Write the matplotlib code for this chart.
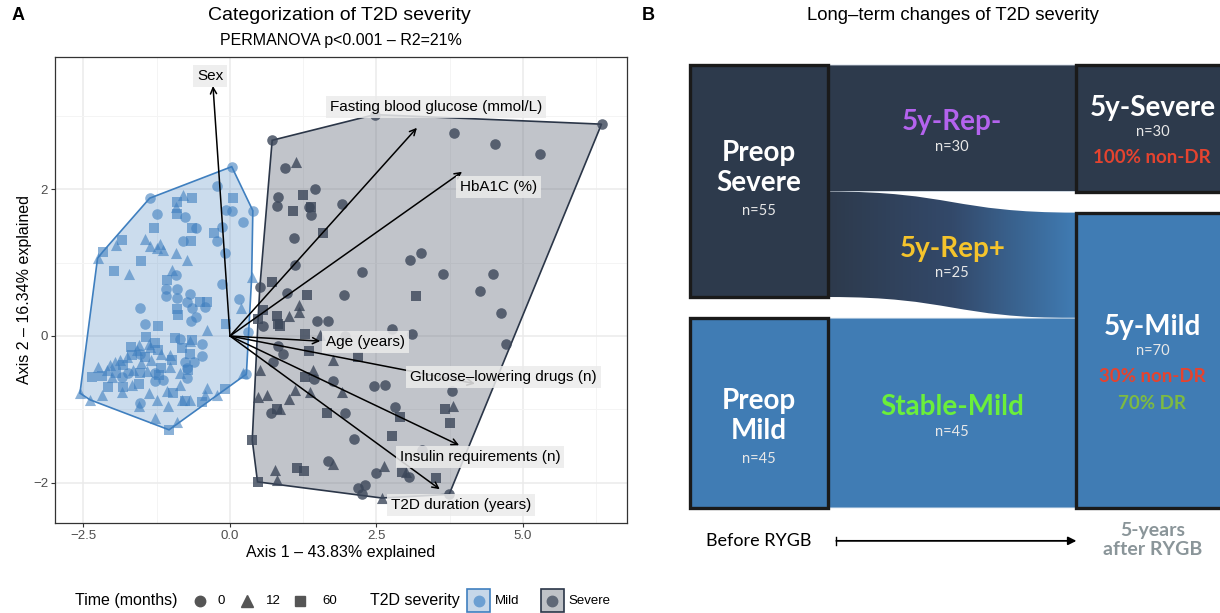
import numpy as np
import matplotlib.pyplot as plt
from matplotlib.path import Path
from matplotlib.patches import PathPatch, Rectangle, Polygon
from matplotlib.lines import Line2D
from matplotlib.colors import LinearSegmentedColormap

plt.rcParams['font.family'] = ['Liberation Sans', 'DejaVu Sans']

# ---------------- PCoA scores (axis 1, axis 2, time in months)
mild_x = [0.03, -1.37, -0.80, -0.65, -0.91, -0.92, -0.91, -0.77, -1.24, -0.23, 0.06, -0.06, 0.03, 0.39,
          0.23, -1.29, -0.64, -0.58, -0.14, -0.28, -0.23, -0.67, -0.81, -1.85, -1.94, -1.45, -1.37, -1.19,
          -1.24, -1.15, -2.17, -2.26, -0.92, -0.74, -1.51, -0.09, -1.98, -1.72, -0.99, -1.08, -0.92, -0.14,
          0.37, -1.09, -0.91, -1.09, -0.91, -0.68, -0.74, -0.51, -0.39, -0.43, -0.65, 0.15, 0.18, -1.54,
          -0.91, -0.88, -0.58, -0.67, -1.45, -1.23, -0.39, -0.06, -1.44, -0.94, -0.85, -0.65, -0.47, -0.68,
          -1.28, -1.56, -1.69, -1.37, -0.82, -0.68, -0.47, -0.61, -0.73, -0.74, 0.23, 0.28, -2.25, -2.36,
          -2.19, -2.10, -2.05, -1.96, -1.88, -1.82, -1.76, -1.68, -1.59, -1.54, -1.45, -1.51, -1.34, -1.22,
          -1.17, -1.02, -0.99, -1.39, -1.65, -1.74, -1.94, -2.02, -1.85, -1.54, -1.28, -1.21, -1.42, -1.17,
          -0.85, -1.02, -0.71, -2.56, -2.39, -2.19, -2.08, -1.85, -1.82, -1.68, -1.56, -1.39, -1.56, -1.54,
          -1.25, -1.08, -0.97, -1.05, -1.28, -1.04, -0.91, -0.82, -0.77, -0.69, -0.85, -0.48, -0.40, -0.23,
          -0.09, -0.43, -1.28, -1.14, -0.77, 0.30]
mild_y = [2.31, 1.88, 1.92, 1.88, 1.83, 1.76, 1.67, 1.63, 1.67, 2.04, 1.88, 1.72, 1.70, 1.71,
          1.55, 1.48, 1.48, 1.48, 1.49, 1.41, 1.30, 1.29, 1.29, 1.31, 1.24, 1.32, 1.23, 1.26,
          1.20, 1.17, 1.15, 1.06, 1.13, 1.04, 1.02, 1.13, 0.88, 0.85, 0.90, 0.76, 0.83, 0.71,
          0.80, 0.64, 0.64, 0.55, 0.52, 0.57, 0.47, 0.47, 0.47, 0.39, 0.38, 0.51, 0.38, 0.38,
          0.37, 0.28, 0.26, 0.20, 0.16, 0.13, 0.08, 0.16, -0.01, -0.03, -0.04, -0.05, -0.11, -0.07,
          -0.10, -0.12, -0.15, -0.15, -0.16, -0.24, -0.27, -0.36, -0.43, -0.57, -0.50, -0.52, -0.42, -0.56,
          -0.54, -0.46, -0.40, -0.35, -0.33, -0.40, -0.28, -0.26, -0.19, -0.24, -0.28, -0.37, -0.33, -0.19,
          -0.24, -0.26, -0.33, -0.11, -0.46, -0.50, -0.51, -0.56, -0.56, -0.50, -0.51, -0.53, -0.48, -0.44,
          -0.51, -0.42, -0.46, -0.78, -0.87, -0.80, -0.69, -0.76, -0.69, -0.67, -0.65, -0.78, -0.96, -0.92,
          -0.87, -0.75, -0.78, -0.96, -1.12, -1.28, -1.17, -0.87, -0.89, -0.87, -0.67, -0.90, -0.71, -0.80,
          -0.72, -0.80, -0.62, -0.60, -0.35, 0.05]
mild_t = [0, 0, 12, 60, 60, 12, 60, 0, 0, 0, 60, 0, 0, 0,
          0, 60, 60, 0, 0, 60, 0, 60, 0, 60, 12, 12, 12, 12,
          12, 12, 60, 12, 12, 12, 60, 0, 60, 12, 12, 60, 0, 0,
          12, 0, 0, 0, 0, 0, 0, 60, 60, 0, 0, 0, 12, 0,
          60, 60, 0, 0, 0, 60, 12, 60, 60, 60, 0, 60, 0, 12,
          60, 12, 60, 12, 60, 60, 0, 0, 0, 0, 12, 0, 12, 60,
          60, 12, 12, 12, 12, 60, 12, 60, 12, 0, 60, 12, 12, 60,
          12, 12, 60, 12, 12, 0, 60, 12, 0, 60, 0, 60, 12, 60,
          12, 12, 60, 12, 12, 12, 60, 12, 60, 12, 60, 12, 12, 0,
          12, 12, 60, 12, 12, 60, 12, 12, 60, 12, 12, 60, 12, 12,
          60, 12, 0, 0, 0, 0]

severe_x = [0.72, 2.47, 6.34, 3.83, 4.52, 5.29, 0.94, 1.12, 1.45, 0.82, 1.24, 0.81, 1.08, 1.35, 1.39,
            1.39, 1.91, 1.09, 1.58, 1.11, 3.07, 3.26, 2.26, 3.64, 4.49, 4.27, 4.62, 4.71, 0.51, 0.71,
            0.97, 1.32, 1.95, 3.17, 1.18, 1.17, 0.57, 0.80, 1.00, 1.48, 1.67, 0.48, 0.82, 0.57, 0.85,
            2.76, 3.10, 1.96, 1.28, 1.53, 0.82, 0.91, 0.74, 1.34, 2.18, 1.76, 0.51, 1.42, 1.28, 1.44,
            1.76, 2.45, 2.65, 3.79, 0.48, 0.64, 1.00, 1.11, 1.37, 1.91, 3.81, 3.67, 3.75, 0.70, 0.85,
            0.81, 1.65, 1.96, 2.90, 2.82, 0.38, 2.12, 2.76, 3.27, 0.77, 0.81, 1.14, 1.27, 1.67, 1.76,
            2.50, 2.62, 2.93, 3.01, 3.06, 3.51, 0.47, 2.18, 2.30, 2.26, 2.59, 3.74]
severe_y = [2.67, 3.02, 2.89, 2.77, 2.62, 2.48, 2.29, 2.38, 2.01, 1.90, 1.92, 1.77, 1.70, 1.76, 1.76,
            1.65, 1.80, 1.34, 1.40, 0.97, 1.03, 1.13, 0.87, 0.85, 0.85, 0.61, 0.31, -0.11, 0.67, 0.73,
            0.59, 0.56, 0.56, 0.54, 0.42, 0.33, 0.36, 0.27, 0.27, 0.21, 0.21, 0.23, 0.17, 0.13, 0.13,
            0.10, 0.03, 0.00, 0.03, 0.02, -0.14, -0.25, -0.35, -0.21, -0.29, -0.33, -0.46, -0.47, -0.56, -0.59,
            -0.61, -0.68, -0.67, -0.75, -0.83, -0.80, -0.86, -0.74, -0.77, -0.77, -0.95, -0.99, -1.19, -1.05, -0.99,
            -1.00, -1.05, -1.05, -1.11, -0.97, -1.42, -1.41, -1.36, -1.56, -1.83, -1.96, -1.80, -1.84, -1.71, -1.75,
            -1.87, -1.78, -1.85, -1.85, -1.92, -1.94, -1.99, -2.08, -2.03, -2.15, -2.21, -2.16]
severe_t = [0, 0, 0, 0, 0, 0, 0, 12, 0, 0, 60, 0, 60, 0, 60,
            0, 0, 0, 60, 0, 0, 0, 0, 0, 0, 0, 0, 0, 0, 60,
            0, 60, 0, 60, 12, 12, 60, 60, 12, 0, 0, 60, 60, 0, 60,
            0, 0, 0, 60, 12, 0, 0, 0, 60, 60, 12, 12, 12, 60, 0,
            0, 0, 0, 0, 12, 12, 12, 12, 12, 12, 12, 60, 60, 0, 12,
            60, 60, 0, 60, 0, 60, 0, 60, 0, 12, 12, 60, 60, 0, 12,
            0, 12, 60, 12, 0, 60, 60, 0, 0, 0, 12, 0]

# fitted variable vectors
vec_names = ['Sex', 'Fasting blood glucose (mmol/L)', 'HbA1C (%)', 'Age (years)',
             'Glucose\u2013lowering drugs (n)', 'Insulin requirements (n)', 'T2D duration (years)']
vec_x = [-0.29, 3.19, 3.96, 1.54, 4.18, 3.91, 3.58]
vec_y = [3.41, 2.84, 2.24, -0.07, -0.65, -1.49, -2.09]
lab_x = [-0.34, 3.52, 4.59, 2.32, 4.67, 4.27, 3.94]
lab_y = [3.55, 3.12, 2.03, -0.08, -0.56, -1.65, -2.31]

# ---------------- severity transitions
left_names = ['Preop\nSevere', 'Preop\nMild']
left_n = [55, 45]
right_names = ['5y-Severe', '5y-Mild']
right_n = [30, 70]
flow_names = ['5y-Rep-', '5y-Rep+', 'Stable-Mild']
flow_n = [30, 25, 45]
flow_src = [0, 0, 1]
flow_dst = [0, 1, 1]
flow_cols = ['#B463EE', '#F5C42C', '#6BEF3A']
dr_text = [['100% non-DR'], ['30% non-DR', '70% DR']]
dr_cols = [['#E5432F'], ['#E5432F', '#7DBA42']]

NAVY = '#2D3A4C'
BLUE = '#407CB4'

fig = plt.figure(figsize=(12.2, 6.13), dpi=100)
W, H = 1220.0, 613.0


def fx(px):
    return px / W


def fy(py):
    return 1 - py / H


def convex_hull(xs, ys):
    pts = sorted(set(zip(xs, ys)))

    def cross(o, a, b):
        return (a[0] - o[0]) * (b[1] - o[1]) - (a[1] - o[1]) * (b[0] - o[0])
    lower, upper = [], []
    for p in pts:
        while len(lower) >= 2 and cross(lower[-2], lower[-1], p) <= 0:
            lower.pop()
        lower.append(p)
    for p in reversed(pts):
        while len(upper) >= 2 and cross(upper[-2], upper[-1], p) <= 0:
            upper.pop()
        upper.append(p)
    return lower[:-1] + upper[:-1]


# ================= panel A
ax = fig.add_axes([fx(55), fy(523), fx(627 - 55), (523 - 57) / H])
ax.set_xlim(-2.986, 6.775)
ax.set_ylim(-2.551, 3.806)
ax.set_xticks([-2.5, 0, 2.5, 5.0])
ax.set_xticklabels(['\u22122.5', '0.0', '2.5', '5.0'])
ax.set_yticks([-2, 0, 2])
ax.set_yticklabels(['\u22122', '0', '2'])
ax.set_xticks([-1.25, 1.25, 3.75, 6.25], minor=True)
ax.set_yticks([-1, 1, 3], minor=True)
ax.grid(which='major', color='#EBEBEB', lw=1.1)
ax.grid(which='minor', color='#F4F4F4', lw=0.7)
ax.set_axisbelow(True)
ax.tick_params(which='major', length=3, color='#333333', labelsize=9.5, labelcolor='#4D4D4D', pad=2)
ax.tick_params(which='minor', length=0)
for s in ax.spines.values():
    s.set_color('#333333')
    s.set_linewidth(0.9)

ax.set_xlabel('Axis 1 \u2013 43.83% explained', fontsize=11.5, labelpad=2)
ax.set_ylabel('Axis 2 \u2013 16.34% explained', fontsize=11.5, labelpad=1)

groups = [(mild_x, mild_y, mild_t, '#3F7FBF', 0.6, '#3F7FBF', 0.27, '#3F7FBF'),
          (severe_x, severe_y, severe_t, '#3B4659', 0.8, '#5C6474', 0.38, '#2B3648')]
for gx, gy, gt, pcol, palpha, fcol, falpha, ecol in groups:
    hull = convex_hull(gx, gy)
    ax.add_patch(Polygon(hull, closed=True, facecolor=fcol, alpha=falpha, edgecolor='none', zorder=1))
    ax.add_patch(Polygon(hull, closed=True, facecolor='none', edgecolor=ecol, lw=1.2, zorder=2))
    gx, gy, gt = np.array(gx), np.array(gy), np.array(gt)
    for t, mk, sz in [(0, 'o', 58), (12, '^', 64), (60, 's', 50)]:
        m = gt == t
        ax.scatter(gx[m], gy[m], marker=mk, s=sz, color=pcol, alpha=palpha, linewidths=0, zorder=3)

for vx, vy in zip(vec_x, vec_y):
    ax.annotate('', xy=(vx, vy), xytext=(0, 0),
                arrowprops=dict(arrowstyle='->', color='black', lw=1.1, shrinkA=0, shrinkB=0,
                                mutation_scale=11), zorder=4)
for name, lx, ly in zip(vec_names, lab_x, lab_y):
    ax.text(lx, ly, name, ha='center', va='center', fontsize=11, zorder=5,
            bbox=dict(boxstyle='square,pad=0.26', fc='#EBEBEB', ec='none', alpha=0.85))

fig.text(fx(18), fy(15), 'A', fontsize=13, fontweight='bold', ha='center', va='center')
fig.text(fx(339), fy(15), 'Categorization of T2D severity', fontsize=14, ha='center', va='center')
fig.text(fx(341), fy(40), 'PERMANOVA p<0.001 \u2013 R2=21%', fontsize=11.5, ha='center', va='center')

# legend strip
ly_leg = fy(601)
fig.text(fx(75), ly_leg, 'Time (months)', fontsize=11.5, ha='left', va='center')
for px, mk, ms, lab, tx in [(200, 'o', 7.5, '0', 218), (247, '^', 8.5, '12', 266), (300, 's', 7, '60', 322)]:
    fig.add_artist(Line2D([fx(px)], [ly_leg], marker=mk, markersize=ms, color='#555555',
                          linestyle='none', transform=fig.transFigure))
    fig.text(fx(tx), ly_leg, lab, fontsize=9.5, ha='left', va='center')
fig.text(fx(370), ly_leg, 'T2D severity', fontsize=11.5, ha='left', va='center')
for cx, fcol, ecol, pcol, lab in [(478.5, '#C6D7E9', '#3F7FBF', '#6C9FD2', 'Mild'),
                                  (552, '#BFC2C7', '#2B3648', '#5F6877', 'Severe')]:
    fig.add_artist(Rectangle((fx(cx - 11.5), fy(612)), fx(23), 23 / H, transform=fig.transFigure,
                             facecolor=fcol, edgecolor=ecol, lw=1.2))
    fig.add_artist(Line2D([fx(cx)], [ly_leg], marker='o', markersize=7.5, color=pcol,
                          linestyle='none', transform=fig.transFigure))
    fig.text(fx(cx + 16), ly_leg, lab, fontsize=9.5, ha='left', va='center')

# ================= panel B
bx = fig.add_axes([fx(620), 0, fx(600), 1])
bx.set_xlim(-0.507, 3.84)
bx.set_ylim(129.9, -15.4)
bx.axis('off')

gap = 5
col_l = (0.0, 1.0)
col_r = (2.8, 4.3)
text_rx = 3.35
left_top = np.concatenate([[0], np.cumsum(np.array(left_n) + gap)[:-1]])
right_top = np.concatenate([[0], np.cumsum(np.array(right_n) + gap)[:-1]])
node_cols = [NAVY, BLUE]
left_label_dy = [-3.0, 0.7]

# flows
src_off = list(left_top)
dst_off = list(right_top)
grad_cmap = LinearSegmentedColormap.from_list('navy_blue', [NAVY, '#33496A', BLUE])
for i, n in enumerate(flow_n):
    s, d = flow_src[i], flow_dst[i]
    y0a, y0b = src_off[s], src_off[s] + n
    y1a, y1b = dst_off[d], dst_off[d] + n
    src_off[s] += n
    dst_off[d] += n
    xa, xb = col_l[1], col_r[0]
    xm = (xa + xb) / 2
    verts = [(xa, y0a), (xm, y0a), (xm, y1a), (xb, y1a), (xb, y1b),
             (xm, y1b), (xm, y0b), (xa, y0b), (xa, y0a)]
    codes = [Path.MOVETO, Path.CURVE4, Path.CURVE4, Path.CURVE4, Path.LINETO,
             Path.CURVE4, Path.CURVE4, Path.CURVE4, Path.CLOSEPOLY]
    path = Path(verts, codes)
    if s == d:
        bx.add_patch(PathPatch(path, facecolor=node_cols[s], edgecolor='#DDE6EF', lw=0.6, zorder=1))
    else:
        patch = PathPatch(path, facecolor='none', edgecolor='none', zorder=1)
        bx.add_patch(patch)
        im = bx.imshow(np.linspace(0, 1, 256).reshape(1, -1), cmap=grad_cmap, aspect='auto',
                       extent=(xa, xb, max(y0b, y1b), min(y0a, y1a)), zorder=1)
        im.set_clip_path(patch)
    cy = (y0a + y0b + y1a + y1b) / 4
    bx.text(xm, cy - 1.4, flow_names[i], color=flow_cols[i], fontsize=20, fontweight='bold',
            family='Lato', ha='center', va='center', zorder=5)
    bx.text(xm, cy + 4.4, f'n={n}', color='#E8E8E8', fontsize=10.5, family='Lato',
            ha='center', va='center', zorder=5)

# nodes
for i, n in enumerate(left_n):
    t = left_top[i]
    bx.add_patch(Rectangle((col_l[0], t), col_l[1] - col_l[0], n, facecolor=node_cols[i],
                           edgecolor='#1A1A1A', lw=2.4, zorder=3))
    cy = t + n / 2 + left_label_dy[i]
    bx.text(0.5, cy, left_names[i], color='white', fontsize=20, fontweight='bold', family='Lato',
            ha='center', va='center', linespacing=1.2, zorder=5)
    bx.text(0.5, cy + 10.2, f'n={n}', color='#E8E8E8', fontsize=10.5, family='Lato',
            ha='center', va='center', zorder=5)

for i, n in enumerate(right_n):
    t = right_top[i]
    bx.add_patch(Rectangle((col_r[0], t), col_r[1] - col_r[0], n, facecolor=node_cols[i],
                           edgecolor='#1A1A1A', lw=2.4, zorder=3, clip_on=True))
    top = t + n / 2 - 1.7 - 3.1 * len(dr_text[i])
    bx.text(text_rx, top, right_names[i], color='white', fontsize=20, fontweight='bold', family='Lato',
            ha='center', va='center', zorder=5)
    bx.text(text_rx, top + 5.8, f'n={n}', color='#E8E8E8', fontsize=10.5, family='Lato',
            ha='center', va='center', zorder=5)
    for k, (txt, c) in enumerate(zip(dr_text[i], dr_cols[i])):
        bx.text(text_rx, top + 11.8 + 6.3 * k, txt, color=c, fontsize=13.5, fontweight='bold',
                family='Lato', ha='center', va='center', zorder=5)

# time axis
bx.text(0.5, 112.8, 'Before RYGB', fontsize=13, family='Lato', ha='center', va='center')
bx.annotate('', xy=(col_r[0], 112.8), xytext=(1.06, 112.8),
            arrowprops=dict(arrowstyle='-|>', color='black', lw=1.3, shrinkA=0, shrinkB=0,
                            mutation_scale=12))
bx.plot([1.06, 1.06], [111.8, 113.8], color='black', lw=1.0)
bx.text(text_rx, 112.5, '5-years\nafter RYGB', fontsize=14, fontweight='bold', family='Lato',
        color='#8A9599', ha='center', va='center', linespacing=1.15)

fig.text(fx(648), fy(15), 'B', fontsize=13, fontweight='bold', ha='center', va='center')
fig.text(fx(953), fy(15), 'Long\u2013term changes of T2D severity', fontsize=13.3, ha='center', va='center')

fig.savefig('out.png', dpi=100)
